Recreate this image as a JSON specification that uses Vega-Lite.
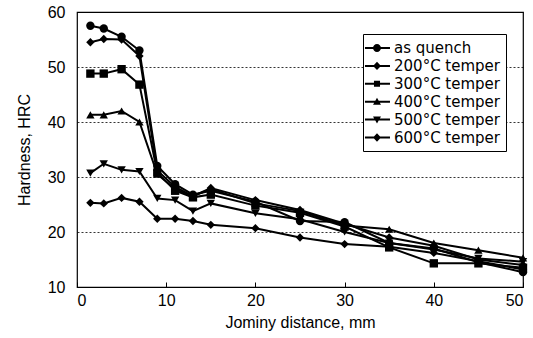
{
  "$schema": "https://vega.github.io/schema/vega-lite/v6.json",
  "width": 446,
  "height": 275,
  "autosize": "none",
  "padding": {"left": 77, "top": 12, "right": 10, "bottom": 51},
  "background": "white",
  "config": {
    "font": "Liberation Sans",
    "view": {"stroke": "black", "strokeWidth": 1.2},
    "axis": {"labelColor": "black", "titleColor": "black", "labelFontSize": 16, "titleFontSize": 16, "titleFontWeight": "normal", "domainColor": "black", "tickColor": "black"}
  },
  "data": {"values": [
    {"s": "as quench", "x": 1.5, "y": 57.5}, {"s": "as quench", "x": 3, "y": 57.0}, {"s": "as quench", "x": 5, "y": 55.5}, {"s": "as quench", "x": 7, "y": 53.0}, {"s": "as quench", "x": 9, "y": 32.0}, {"s": "as quench", "x": 11, "y": 28.7}, {"s": "as quench", "x": 13, "y": 26.8}, {"s": "as quench", "x": 15, "y": 27.5}, {"s": "as quench", "x": 20, "y": 25.5}, {"s": "as quench", "x": 25, "y": 22.0}, {"s": "as quench", "x": 30, "y": 21.8}, {"s": "as quench", "x": 35, "y": 18.0}, {"s": "as quench", "x": 40, "y": 17.0}, {"s": "as quench", "x": 45, "y": 14.5}, {"s": "as quench", "x": 50, "y": 12.7},
    {"s": "200°C temper", "x": 1.5, "y": 54.5}, {"s": "200°C temper", "x": 3, "y": 55.1}, {"s": "200°C temper", "x": 5, "y": 55.0}, {"s": "200°C temper", "x": 7, "y": 52.0}, {"s": "200°C temper", "x": 9, "y": 31.2}, {"s": "200°C temper", "x": 11, "y": 28.2}, {"s": "200°C temper", "x": 13, "y": 26.5}, {"s": "200°C temper", "x": 15, "y": 28.0}, {"s": "200°C temper", "x": 20, "y": 25.8}, {"s": "200°C temper", "x": 25, "y": 24.0}, {"s": "200°C temper", "x": 30, "y": 21.5}, {"s": "200°C temper", "x": 35, "y": 19.0}, {"s": "200°C temper", "x": 40, "y": 17.5}, {"s": "200°C temper", "x": 45, "y": 15.0}, {"s": "200°C temper", "x": 50, "y": 14.0},
    {"s": "300°C temper", "x": 1.5, "y": 48.8}, {"s": "300°C temper", "x": 3, "y": 48.8}, {"s": "300°C temper", "x": 5, "y": 49.6}, {"s": "300°C temper", "x": 7, "y": 46.8}, {"s": "300°C temper", "x": 9, "y": 30.8}, {"s": "300°C temper", "x": 11, "y": 27.5}, {"s": "300°C temper", "x": 13, "y": 26.3}, {"s": "300°C temper", "x": 15, "y": 26.8}, {"s": "300°C temper", "x": 20, "y": 24.8}, {"s": "300°C temper", "x": 25, "y": 23.5}, {"s": "300°C temper", "x": 30, "y": 21.0}, {"s": "300°C temper", "x": 35, "y": 17.2}, {"s": "300°C temper", "x": 40, "y": 14.3}, {"s": "300°C temper", "x": 45, "y": 14.3}, {"s": "300°C temper", "x": 50, "y": 13.5},
    {"s": "400°C temper", "x": 1.5, "y": 41.3}, {"s": "400°C temper", "x": 3, "y": 41.3}, {"s": "400°C temper", "x": 5, "y": 42.0}, {"s": "400°C temper", "x": 7, "y": 40.0}, {"s": "400°C temper", "x": 9, "y": 30.5}, {"s": "400°C temper", "x": 11, "y": 27.8}, {"s": "400°C temper", "x": 13, "y": 26.5}, {"s": "400°C temper", "x": 15, "y": 27.8}, {"s": "400°C temper", "x": 20, "y": 25.2}, {"s": "400°C temper", "x": 25, "y": 23.8}, {"s": "400°C temper", "x": 30, "y": 21.2}, {"s": "400°C temper", "x": 35, "y": 20.5}, {"s": "400°C temper", "x": 40, "y": 18.0}, {"s": "400°C temper", "x": 45, "y": 16.7}, {"s": "400°C temper", "x": 50, "y": 15.3},
    {"s": "500°C temper", "x": 1.5, "y": 30.7}, {"s": "500°C temper", "x": 3, "y": 32.4}, {"s": "500°C temper", "x": 5, "y": 31.3}, {"s": "500°C temper", "x": 7, "y": 31.0}, {"s": "500°C temper", "x": 9, "y": 26.1}, {"s": "500°C temper", "x": 11, "y": 25.8}, {"s": "500°C temper", "x": 13, "y": 23.8}, {"s": "500°C temper", "x": 15, "y": 25.2}, {"s": "500°C temper", "x": 20, "y": 23.4}, {"s": "500°C temper", "x": 25, "y": 22.3}, {"s": "500°C temper", "x": 30, "y": 20.0}, {"s": "500°C temper", "x": 35, "y": 18.0}, {"s": "500°C temper", "x": 40, "y": 16.8}, {"s": "500°C temper", "x": 45, "y": 15.2}, {"s": "500°C temper", "x": 50, "y": 14.6},
    {"s": "600°C temper", "x": 1.5, "y": 25.3}, {"s": "600°C temper", "x": 3, "y": 25.2}, {"s": "600°C temper", "x": 5, "y": 26.2}, {"s": "600°C temper", "x": 7, "y": 25.5}, {"s": "600°C temper", "x": 9, "y": 22.4}, {"s": "600°C temper", "x": 11, "y": 22.4}, {"s": "600°C temper", "x": 13, "y": 22.0}, {"s": "600°C temper", "x": 15, "y": 21.3}, {"s": "600°C temper", "x": 20, "y": 20.7}, {"s": "600°C temper", "x": 25, "y": 19.0}, {"s": "600°C temper", "x": 30, "y": 17.8}, {"s": "600°C temper", "x": 35, "y": 17.3}, {"s": "600°C temper", "x": 40, "y": 16.2}, {"s": "600°C temper", "x": 45, "y": 14.7}, {"s": "600°C temper", "x": 50, "y": 13.2}
  ]},
  "encoding": {
    "x": {"field": "x", "type": "quantitative", "scale": {"domain": [0, 50], "nice": false}, "title": "Jominy distance, mm",
      "axis": {"values": [0, 10, 20, 30, 40, 50], "grid": false, "tickSize": -5, "labelPadding": 10, "titlePadding": 6, "domain": false}},
    "y": {"field": "y", "type": "quantitative", "scale": {"domain": [10, 60], "nice": false}, "title": "Hardness, HRC",
      "axis": {"values": [10, 20, 30, 40, 50, 60], "grid": true, "gridColor": "black", "gridDash": [2, 2], "gridWidth": 0.8, "ticks": false, "labelPadding": 12, "titlePadding": 15, "domain": false}},
    "detail": {"field": "s"}
  },
  "layer": [
    {"mark": {"type": "line", "color": "black", "strokeWidth": 2}},
    {"mark": {"type": "point", "filled": true, "color": "black", "opacity": 1, "size": 70},
      "encoding": {
        "shape": {"field": "s", "type": "nominal",
          "scale": {"domain": ["as quench", "200°C temper", "300°C temper", "400°C temper", "500°C temper", "600°C temper"],
                    "range": ["circle", "diamond", "square", "triangle-up", "triangle-down", "diamond"]},
          "legend": null}
      }},
    {"mark": {"type": "point", "filled": true, "color": "black", "opacity": 0, "size": 10},
      "encoding": {
        "shape": {"field": "s", "type": "nominal",
          "scale": {"domain": ["as quench", "200°C temper", "300°C temper", "400°C temper", "500°C temper", "600°C temper"],
                    "range": [
                      "M-1.39,-0.115H1.5V0.115H-1.39Z M0.46,0A0.46,0.46 0 1,1 -0.46,0A0.46,0.46 0 1,1 0.46,0Z",
                      "M-1.39,-0.115H1.5V0.115H-1.39Z M0,-0.48L0.46,0L0,0.48L-0.46,0Z",
                      "M-1.39,-0.115H1.5V0.115H-1.39Z M-0.35,-0.35H0.35V0.35H-0.35Z",
                      "M-1.39,-0.115H1.5V0.115H-1.39Z M0,-0.45L0.46,0.35H-0.46Z",
                      "M-1.39,-0.115H1.5V0.115H-1.39Z M0,0.45L-0.46,-0.35H0.46Z",
                      "M-1.39,-0.115H1.5V0.115H-1.39Z M0,-0.48L0.46,0L0,0.48L-0.46,0Z"
                    ]},
          "legend": {"title": null, "orient": "none", "legendX": 286, "legendY": 22,
            "strokeColor": "black", "fillColor": "white", "padding": 5,
            "labelFont": "DejaVu Sans", "labelFontSize": 15, "labelColor": "black", "labelOffset": 8, "rowPadding": 0.9,
            "symbolSize": 300, "symbolOpacity": 1, "symbolFillColor": "black", "symbolStrokeColor": "black", "symbolStrokeWidth": 0}
        }
      }}
  ],
  "resolve": {"scale": {"shape": "independent"}, "legend": {"shape": "independent"}}
}
